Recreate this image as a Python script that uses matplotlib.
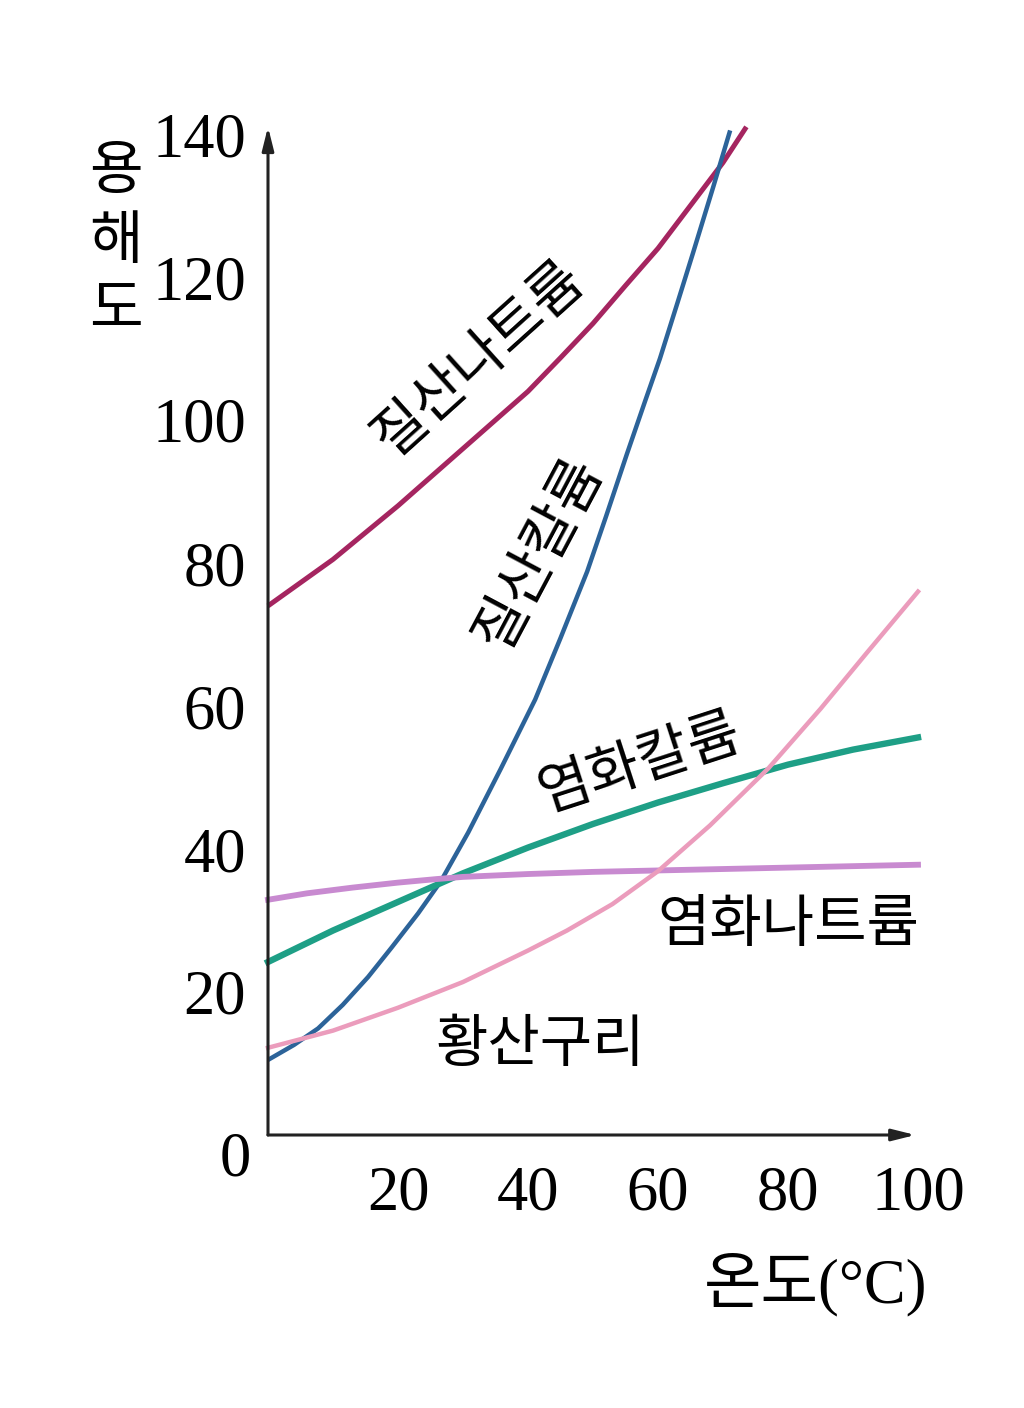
import matplotlib
matplotlib.use('Agg')
import matplotlib.pyplot as plt

plt.rcParams['font.family'] = ['Noto Sans CJK KR', 'DejaVu Sans']

# 온도 (°C) and 용해도 values
temp_nano3 = [0, 10, 20, 30, 40, 45, 50, 55, 60, 65, 70, 73.6]
sol_nano3 = [74, 80.5, 88, 96, 104, 108.7, 113.5, 118.8, 124, 130, 136, 141]

temp_kno3 = [0, 4, 7.7, 11.5, 15.4, 19, 23.1, 26.6, 30.8, 35.8, 41.1, 45, 49.1, 52, 55.2, 58, 60.3, 63, 65.4, 68.5, 71.1]
sol_kno3 = [10.5, 12.6, 14.9, 18.2, 22.1, 26.2, 31.0, 35.5, 42.3, 51.2, 60.9, 69.5, 78.8, 86.5, 95.2, 102.6, 108.6, 116.4, 123.4, 132.6, 140.5]

temp_kcl = [0, 10, 20, 30, 40, 50, 60, 70, 80, 90, 100]
sol_kcl = [24.2, 28.6, 32.6, 36.6, 40.2, 43.5, 46.5, 49.2, 51.8, 53.9, 55.6]

temp_nacl = [0, 6, 13, 20, 26, 30, 40, 50, 60, 70, 80, 90, 100]
sol_nacl = [32.9, 33.8, 34.6, 35.3, 35.8, 36.1, 36.5, 36.8, 37.0, 37.2, 37.4, 37.6, 37.8]

temp_cuso4 = [0, 10, 20, 30, 40, 46, 53, 60, 68, 77, 85, 92, 100]
sol_cuso4 = [12.2, 14.6, 17.8, 21.4, 25.8, 28.6, 32.3, 36.9, 43.3, 51.3, 59.6, 67.3, 76]

x_ticks = [20, 40, 60, 80, 100]
y_ticks = [20, 40, 60, 80, 100, 120, 140]

fig = plt.figure(figsize=(10.24, 14.08), dpi=100)
ax = fig.add_axes([268 / 1024, 1 - 1135 / 1408, 650 / 1024, 1001 / 1408])
ax.set_xlim(0, 100)
ax.set_ylim(0, 140)
for s in ax.spines.values():
    s.set_visible(False)

# 곡선
ax.plot(temp_nano3, sol_nano3, color='#a52560', lw=3.6, clip_on=False, solid_capstyle='butt')
ax.plot(temp_kno3, sol_kno3, color='#2c6399', lw=3.2, clip_on=False, solid_capstyle='butt')
ax.plot(temp_kcl, sol_kcl, color='#1e9f86', lw=4.6, clip_on=False)
ax.plot(temp_nacl, sol_nacl, color='#c88ad0', lw=4.2, clip_on=False)
ax.plot(temp_cuso4, sol_cuso4, color='#eb9cbc', lw=3.2, clip_on=False)

# 화살표 축
ax.annotate('', xy=(99.6, 0), xytext=(0, 0), annotation_clip=False,
            arrowprops=dict(arrowstyle='-|>,head_length=1.4,head_width=0.35', color='#222222', lw=2.2,
                            shrinkA=0, shrinkB=0))
ax.annotate('', xy=(0, 141), xytext=(0, 0), annotation_clip=False,
            arrowprops=dict(arrowstyle='-|>,head_length=1.4,head_width=0.35', color='#222222', lw=2.2,
                            shrinkA=0, shrinkB=0))

serif = ['Liberation Serif', 'DejaVu Serif']
ax.set_xticks(x_ticks)
ax.set_xticklabels([str(t) for t in x_ticks], family=serif, fontsize=45)
ax.set_yticks(y_ticks)
ax.set_yticklabels([str(t) for t in y_ticks], family=serif, fontsize=45)
ax.tick_params(length=0)
ax.tick_params(axis='x', pad=22)
ax.tick_params(axis='y', pad=16)
ax.text(-5.1, -3.5, '0', family=serif, fontsize=45, ha='center', va='center')

# 축 이름
ax.text(-23.4, 125, '용\n해\n도', fontsize=42, ha='center', va='center', linespacing=1.18)
ax.text(84.2, -21, '온도(°C)', family=['Liberation Serif', 'Noto Sans CJK KR'],
        fontsize=45, ha='center', va='center')

# 곡선 이름
lab = dict(fontsize=41, ha='center', va='center', rotation_mode='anchor')
ax.text(32.4, 108.6, '질산나트륨', rotation=42, **lab)
ax.text(41.6, 81.4, '질산칼륨', rotation=62, **lab)
ax.text(57.2, 52.0, '염화칼륨', rotation=18, **lab)
ax.text(80, 29.4, '염화나트륨', **lab)
ax.text(41.8, 12.6, '황산구리', **lab)

fig.savefig('out.png', dpi=100)
